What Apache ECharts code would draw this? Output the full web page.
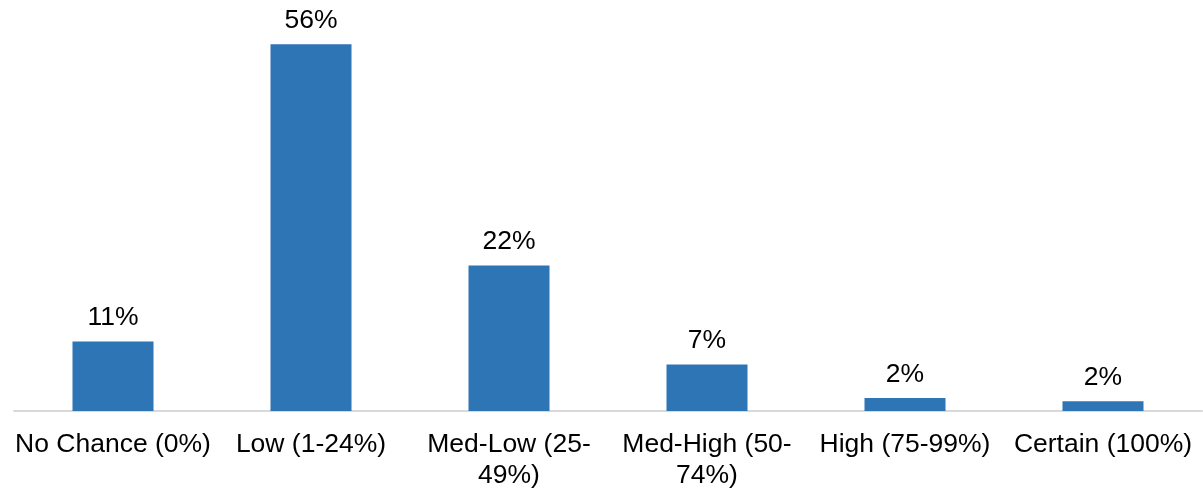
<!DOCTYPE html>
<html>
<head>
<meta charset="utf-8">
<title>Likelihood</title>
<script src="https://cdn.jsdelivr.net/npm/echarts@6/dist/echarts.min.js"></script>
<style>
  html, body { margin: 0; padding: 0; background: #fff; }
  #chart { width: 1203px; height: 490px; }
</style>
</head>
<body>
<div id="chart"></div>
<script>
// Response categories (line breaks where the axis label wraps)
const categories = [
  'No Chance (0%)',
  'Low (1-24%)',
  'Med-Low (25-\n49%)',
  'Med-High (50-\n74%)',
  'High (75-99%)',
  'Certain (100%)'
];
// Share of responses, percent
const shares = [10.6, 56, 22.2, 7.1, 2, 1.5];

const FONT = '"Liberation Sans", Arial, sans-serif';

const chart = echarts.init(document.getElementById('chart'));
chart.setOption({
  animation: false,
  grid: { left: 14, right: 1, top: 18, bottom: 79, outerBoundsMode: 'none', containLabel: false },
  xAxis: {
    type: 'category',
    data: categories,
    axisTick: { show: false },
    axisLine: { lineStyle: { color: '#d9d9d9', width: 2 } },
    axisLabel: {
      interval: 0,
      margin: 18,
      color: '#000',
      fontFamily: FONT,
      fontSize: 26.5,
      lineHeight: 31
    }
  },
  yAxis: {
    type: 'value',
    min: 0,
    max: 60,
    show: false
  },
  series: [{
    type: 'bar',
    data: shares,
    barWidth: 81,
    itemStyle: { color: '#2e75b6' },
    label: {
      show: true,
      position: 'top',
      distance: 10,
      color: '#000',
      fontFamily: FONT,
      fontSize: 26.5,
      formatter: p => Math.round(p.value) + '%'
    }
  }]
});
</script>
</body>
</html>
